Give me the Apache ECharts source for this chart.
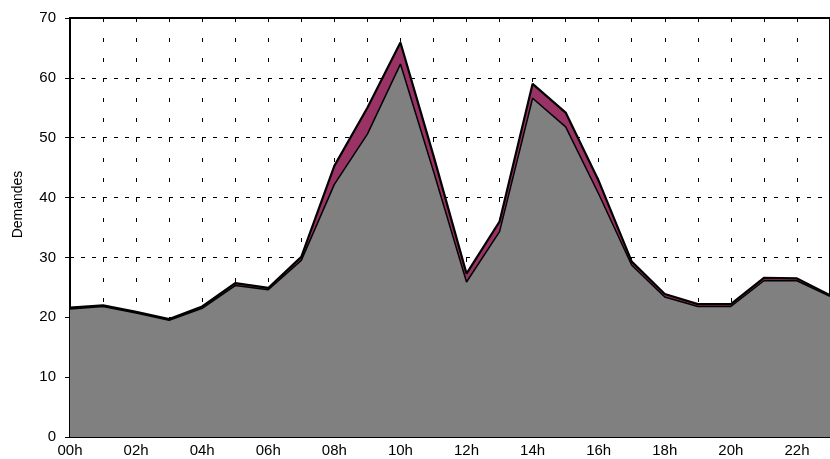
<!DOCTYPE html>
<html>
<head>
<meta charset="utf-8">
<script src="https://cdn.jsdelivr.net/npm/echarts@6/dist/echarts.min.js"></script>
<style>
html,body{margin:0;padding:0;background:#fff;}
#chart{width:830px;height:459px;}
</style>
</head>
<body>
<div id="chart"></div>
<script>
const hours = ['00h','01h','02h','03h','04h','05h','06h','07h','08h','09h','10h','11h','12h','13h','14h','15h','16h','17h','18h','19h','20h','21h','22h','23h'];
const baseSeries = [21.4, 21.8, 20.7, 19.5, 21.5, 25.3, 24.6, 29.5, 42.2, 50.6, 62.3, 44.4, 25.9, 34.3, 56.6, 51.8, 40.6, 28.7, 23.4, 21.8, 21.8, 26.1, 26.1, 23.5];
const extraSeries = [0.2, 0.2, 0.2, 0.2, 0.3, 0.4, 0.3, 0.6, 3.1, 4.4, 3.6, 2.6, 1.4, 1.7, 2.4, 2.4, 2.2, 0.6, 0.5, 0.4, 0.4, 0.5, 0.4, 0.2];
const yName = 'Demandes';

const chart = echarts.init(document.getElementById('chart'), null, {renderer: 'canvas'});
chart.setOption({
  animation: false,
  backgroundColor: '#ffffff',
  grid: {left: 70, right: 0, top: 18, bottom: 22, show: true, borderColor: '#000', borderWidth: 2, backgroundColor: 'transparent'},
  xAxis: {
    type: 'category',
    data: hours,
    boundaryGap: false,
    axisLine: {show: true, lineStyle: {color: '#000', width: 2}},
    axisTick: {show: false},
    axisLabel: {interval: 1, color: '#000', fontFamily: 'Liberation Sans', fontSize: 15, margin: 6},
    splitLine: {show: true, interval: 0, lineStyle: {color: '#000', width: 1, type: [4, 16], dashOffset: 0}}
  },
  yAxis: {
    type: 'value',
    min: 0, max: 70, interval: 10,
    name: yName,
    nameLocation: 'middle',
    nameGap: 45,
    nameTextStyle: {color: '#000', fontFamily: 'Liberation Sans', fontSize: 14, padding: [0, 0, 0, 46]},
    axisLine: {show: true, lineStyle: {color: '#000', width: 2}},
    axisTick: {show: true, length: 5, lineStyle: {color: '#000', width: 1}},
    axisLabel: {color: '#000', fontFamily: 'Liberation Sans', fontSize: 15, margin: 14},
    splitLine: {show: true, lineStyle: {color: '#000', width: 1, type: [4, 7]}}
  },
  series: [
    {
      type: 'line', stack: 'total', data: baseSeries, symbol: 'none',
      lineStyle: {color: '#000', width: 1.5},
      areaStyle: {color: '#808080', opacity: 1},
      z: 3
    },
    {
      type: 'line', stack: 'total', data: extraSeries, symbol: 'none',
      lineStyle: {color: '#000', width: 2.2},
      areaStyle: {color: '#993366', opacity: 1},
      z: 2
    }
  ]
});
</script>
</body>
</html>
